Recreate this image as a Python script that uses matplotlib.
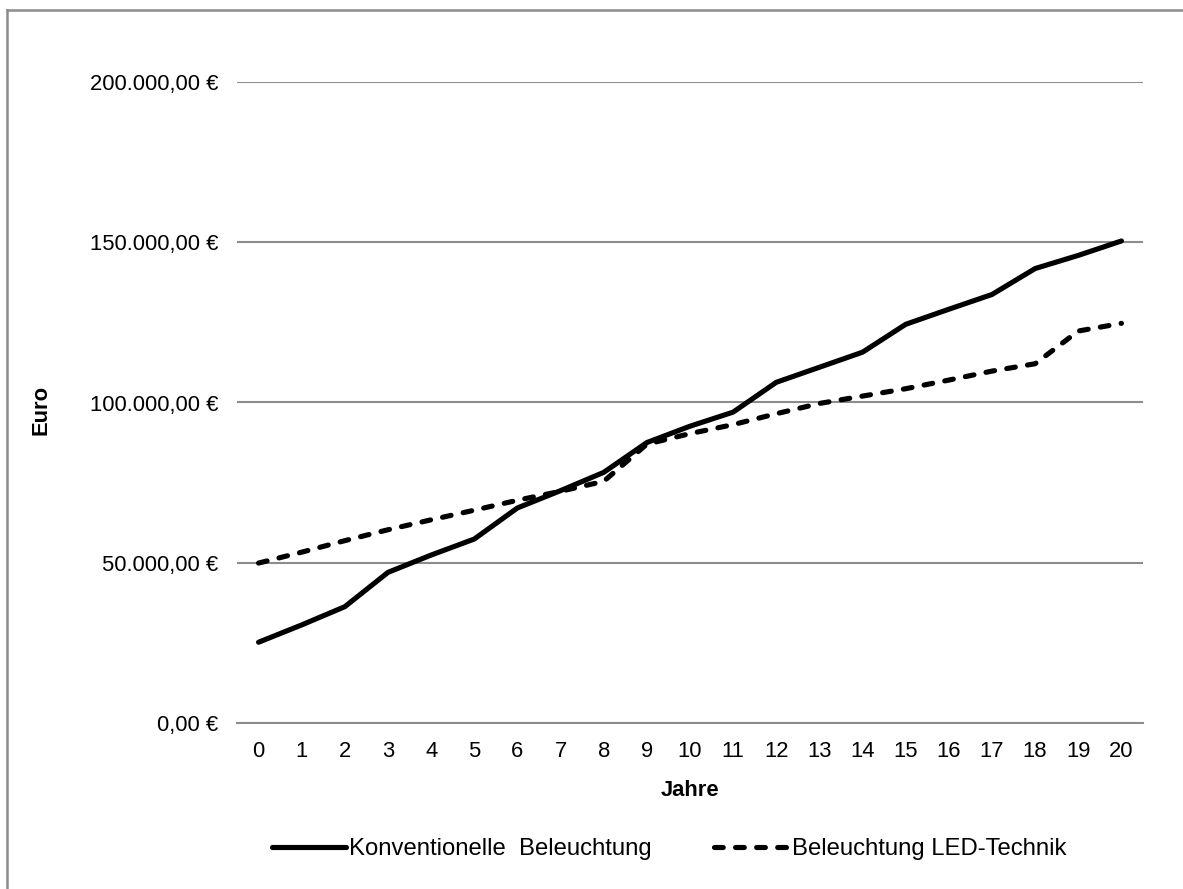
import matplotlib
matplotlib.use("Agg")
import matplotlib.pyplot as plt
from matplotlib.ticker import FuncFormatter, MultipleLocator
from matplotlib.lines import Line2D

plt.rcParams['font.family'] = ['Liberation Sans', 'DejaVu Sans']

years = list(range(21))
konventionell = [25200, 30600, 36300, 47000, 52400, 57400, 67100, 72500, 78200, 87500,
                 92600, 97000, 106300, 111000, 115700, 124400, 129100, 133700, 141800,
                 145900, 150400]
led = [49900, 53300, 56900, 60300, 63400, 66400, 69500, 72300, 75400, 87000,
       90300, 93100, 96500, 99700, 102000, 104300, 107000, 109800, 112100,
       122300, 124700]
series_names = ["Konventionelle  Beleuchtung", "Beleuchtung LED-Technik"]

W, H = 1183, 889
fig = plt.figure(figsize=(W / 100, H / 100), dpi=100)
ax = fig.add_axes([237 / W, 1 - 723 / H, (1143 - 237) / W, (723 - 82) / H])

grid_col = "#8c8c8c"
fs = 15.8

ax.plot(years, konventionell, color="black", lw=3.7, solid_capstyle="round",
        solid_joinstyle="round", label=series_names[0])
ax.plot(years, led, color="black", lw=3.7, dashes=(1.7, 2.4), dash_capstyle="round",
        dash_joinstyle="round", label=series_names[1])

ax.set_xlim(-0.5, 20.5)
ax.set_ylim(0, 200000)
ax.yaxis.set_major_locator(MultipleLocator(50000))
ax.set_xticks(years)
ax.set_xticklabels([str(y) for y in years])


def euro(v, pos):
    s = f"{v:,.2f}".replace(",", "X").replace(".", ",").replace("X", ".")
    return s + " €"


ax.yaxis.set_major_formatter(FuncFormatter(euro))
ax.grid(axis="y", color=grid_col, lw=1.5)
ax.set_axisbelow(True)
for side in ("top", "right", "left"):
    ax.spines[side].set_visible(False)
ax.spines["bottom"].set_color(grid_col)
ax.spines["bottom"].set_linewidth(1.5)
ax.tick_params(axis="both", length=0, labelsize=fs, colors="black")
ax.tick_params(axis="y", pad=13.5)
ax.tick_params(axis="x", pad=13)

ax.set_xlabel("Jahre", fontsize=fs, fontweight="bold", va="center")
ax.xaxis.set_label_coords(0.5, (723 - 791) / 641)
ax.set_ylabel("Euro", fontsize=fs, fontweight="bold", va="center")
ax.yaxis.set_label_coords((41 - 237) / 906, (723 - 410) / 641)

leg = ax.legend(loc="center", bbox_to_anchor=((669 - 237) / 906, (723 - 849) / 641),
                ncol=2, frameon=False, fontsize=17.2, handlelength=3.1,
                handletextpad=0.15, columnspacing=2.6)

# chart frame (left and top edges)
fig.add_artist(Line2D([7 / W, 7 / W], [0, 1 - 10 / H], color=grid_col, lw=1.8,
                      transform=fig.transFigure))
fig.add_artist(Line2D([7 / W, 1], [1 - 10 / H, 1 - 10 / H], color=grid_col, lw=1.8,
                      transform=fig.transFigure))

fig.savefig("out.png", dpi=100)
